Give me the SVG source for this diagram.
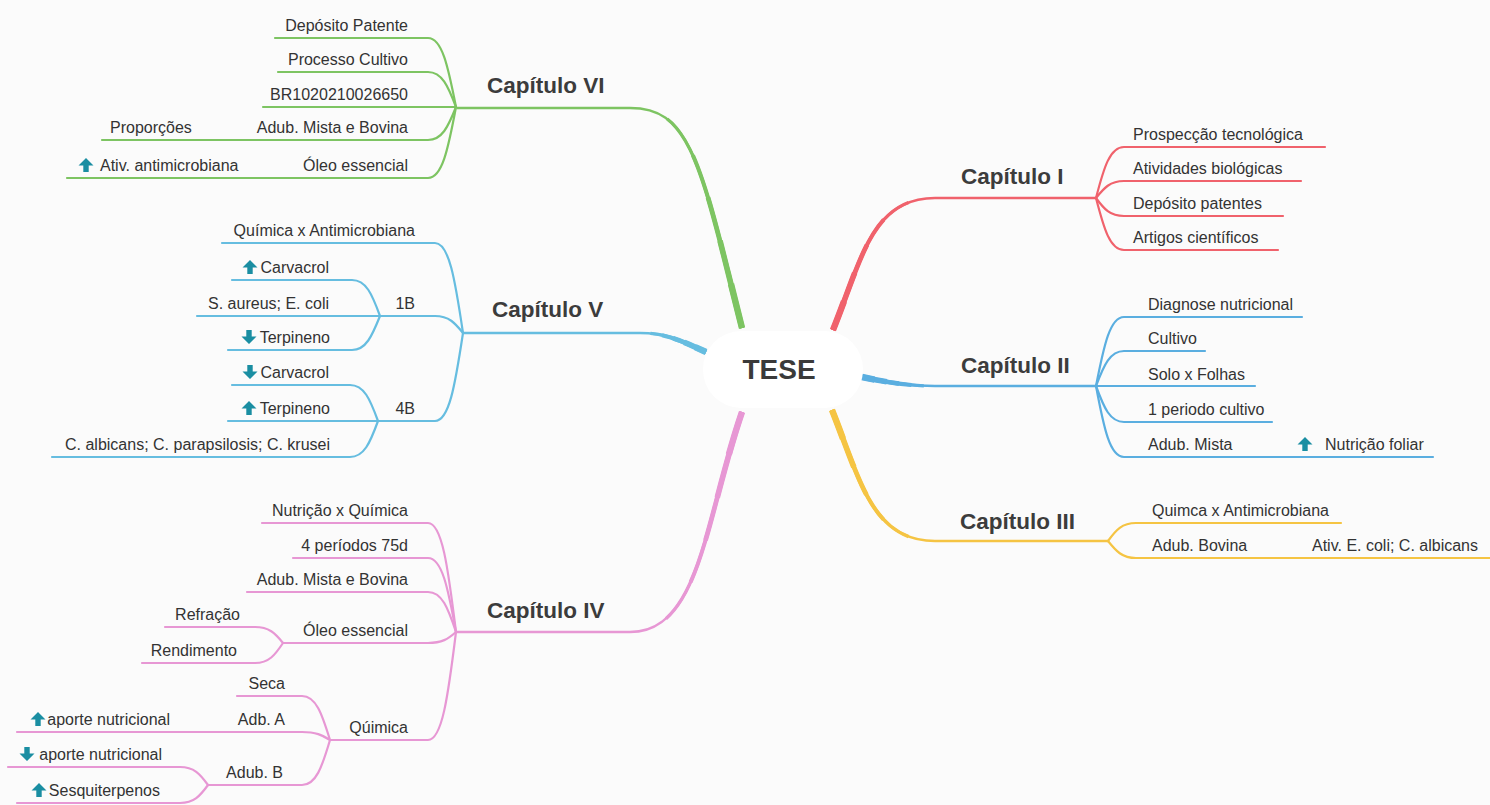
<svg xmlns="http://www.w3.org/2000/svg" width="1490" height="805" viewBox="0 0 1490 805">
<defs>
<style>
.t{font-family:"Liberation Sans",Arial,sans-serif;font-size:16px;fill:#333}
.e{text-anchor:end}
.h{font-family:"Liberation Sans",Arial,sans-serif;font-weight:bold;font-size:22.5px;fill:#3c3c3c}
.c path{fill:none;stroke-width:2.2;stroke-linecap:round;stroke-linejoin:round}
.m path,.m use{fill:none;stroke-linecap:butt}
.green path,.green use{stroke:#7dc462}
.bv path,.bv use{stroke:#66bde0}
.bii path,.bii use{stroke:#5aaee0}
.pink path,.pink use{stroke:#e797d4}
.red path,.red use{stroke:#f0626c}
.yel path,.yel use{stroke:#f5c443}
.w0{stroke-width:2.6}
.w1{stroke-width:3.3;stroke-dasharray:85 1000}
.w2{stroke-width:4.0;stroke-dasharray:68 1000}
.w3{stroke-width:4.8;stroke-dasharray:51 1000}
.w4{stroke-width:5.6;stroke-dasharray:34 1000}
.w5{stroke-width:6.4;stroke-dasharray:17 1000}
.ic{fill:#1a8ea2}
</style>
<path id="up" d="M0,0 L7.5,7.5 L2.7,7.5 L2.7,14 L-2.7,14 L-2.7,7.5 L-7.5,7.5 Z"/>
<path id="dn" d="M0,14 L7.5,6.5 L2.7,6.5 L2.7,0 L-2.7,0 L-2.7,6.5 L-7.5,6.5 Z"/>
<path id="k6" pathLength="100" d="M742,328 C700,160 690,108 630,108"/>
<path id="k5" pathLength="100" d="M706,352 C680,340 665,333 640,333"/>
<path id="k4" pathLength="100" d="M742,412 C705,520 700,632 630,632"/>
<path id="k1" pathLength="100" d="M833,330 C862,258 872,198 935,198"/>
<path id="k2" pathLength="100" d="M862,377 C890,383 910,386 935,386"/>
<path id="k3" pathLength="100" d="M832,410 C860,480 872,541 935,541"/>
</defs>
<rect width="1490" height="805" fill="#fbfbfb"/>

<g id="connectors">
 <g class="m green">
  <path class="w0" d="M742,328 C700,160 690,108 630,108 L457,108"/>
  <use href="#k6" class="w1"/><use href="#k6" class="w2"/><use href="#k6" class="w3"/><use href="#k6" class="w4"/><use href="#k6" class="w5"/>
 </g>
 <g class="m bv">
  <path class="w0" d="M706,352 C680,340 665,333 640,333 L463,333"/>
  <use href="#k5" class="w1"/><use href="#k5" class="w2"/><use href="#k5" class="w3"/><use href="#k5" class="w4"/><use href="#k5" class="w5"/>
 </g>
 <g class="m pink">
  <path class="w0" d="M742,412 C705,520 700,632 630,632 L456,632"/>
  <use href="#k4" class="w1"/><use href="#k4" class="w2"/><use href="#k4" class="w3"/><use href="#k4" class="w4"/><use href="#k4" class="w5"/>
 </g>
 <g class="m red">
  <path class="w0" d="M833,330 C862,258 872,198 935,198 L1096,198"/>
  <use href="#k1" class="w1"/><use href="#k1" class="w2"/><use href="#k1" class="w3"/><use href="#k1" class="w4"/><use href="#k1" class="w5"/>
 </g>
 <g class="m bii">
  <path class="w0" d="M862,377 C890,383 910,386 935,386 L1096,386"/>
  <use href="#k2" class="w1"/><use href="#k2" class="w2"/><use href="#k2" class="w3"/><use href="#k2" class="w4"/><use href="#k2" class="w5"/>
 </g>
 <g class="m yel">
  <path class="w0" d="M832,410 C860,480 872,541 935,541 L1108,541"/>
  <use href="#k3" class="w1"/><use href="#k3" class="w2"/><use href="#k3" class="w3"/><use href="#k3" class="w4"/><use href="#k3" class="w5"/>
 </g>

 <g class="c green">
  <path d="M456,107 C448,66 442,38 428,38 L275,38"/>
  <path d="M456,107 C448,86 442,72 428,72 L278,72"/>
  <path d="M456,107 L263,107"/>
  <path d="M456,107 C448,127 442,140 428,140 L102,140"/>
  <path d="M456,107 C448,150 442,178 428,178 L67,178"/>
 </g>
 <g class="c bv">
  <path d="M463,333 C455,279 449,243 435,243 L222,243"/>
  <path d="M463,333 C455,323 449,316 435,316 L380,316"/>
  <path d="M463,333 C455,386 449,421 435,421 L378,421"/>
  <path d="M380,316 C372,294 366,280 352,280 L232,280"/>
  <path d="M380,316 L197,316"/>
  <path d="M380,316 C372,336 366,350 352,350 L228,350"/>
  <path d="M378,421 C370,399 364,385 350,385 L232,385"/>
  <path d="M378,421 L228,421"/>
  <path d="M378,421 C370,443 364,457 350,457 L52,457"/>
 </g>
 <g class="c pink">
  <path d="M456,632 C448,567 442,523 428,523 L262,523"/>
  <path d="M456,632 C448,588 442,558 428,558 L293,558"/>
  <path d="M456,632 C448,608 442,592 428,592 L247,592"/>
  <path d="M456,632 C448,639 442,643 428,643 L283,643"/>
  <path d="M456,632 C448,697 442,740 428,740 L330,740"/>
  <path d="M283,643 C275,633 269,627 255,627 L165,627"/>
  <path d="M283,643 C275,655 269,663 255,663 L142,663"/>
  <path d="M330,740 C322,714 316,696 302,696 L237,696"/>
  <path d="M330,740 C322,735 316,732 302,732 L17,732"/>
  <path d="M330,740 C322,767 316,785 302,785 L208,785"/>
  <path d="M208,785 C200,774 194,767 180,767 L8,767"/>
  <path d="M208,785 C200,796 194,803 180,803 L17,803"/>
 </g>
 <g class="c red">
  <path d="M1096,198 C1104,167 1110,147 1124,147 L1325,147"/>
  <path d="M1096,198 C1104,188 1110,181 1124,181 L1301,181"/>
  <path d="M1096,198 C1104,209 1110,216 1124,216 L1283,216"/>
  <path d="M1096,198 C1104,229 1110,250 1124,250 L1278,250"/>
 </g>
 <g class="c bii">
  <path d="M1096,386 C1104,345 1110,317 1124,317 L1302,317"/>
  <path d="M1096,386 C1104,365 1110,351 1124,351 L1205,351"/>
  <path d="M1096,386 L1255,386"/>
  <path d="M1096,386 C1104,408 1110,422 1124,422 L1272,422"/>
  <path d="M1096,386 C1104,429 1110,457 1124,457 L1433,457"/>
 </g>
 <g class="c yel">
  <path d="M1108,541 C1116,530 1122,523 1136,523 L1341,523"/>
  <path d="M1108,541 C1116,551 1122,558 1136,558 L1490,558"/>
 </g>
</g>

<g id="tese">
 <rect x="703" y="331" width="160" height="77" rx="38" fill="#ffffff"/>
 <text x="779" y="379" text-anchor="middle" style="font-family:'Liberation Sans',Arial,sans-serif;font-weight:bold;font-size:28px;fill:#3a3a3a">TESE</text>
</g>

<g id="cap6"><text class="h" x="487" y="93">Capítulo VI</text></g>
<g id="cap6-deposito"><text class="t e" x="408" y="31">Depósito Patente</text></g>
<g id="cap6-processo"><text class="t e" x="408" y="65">Processo Cultivo</text></g>
<g id="cap6-br"><text class="t e" x="408" y="100">BR1020210026650</text></g>
<g id="cap6-adub"><text class="t e" x="408" y="133">Adub. Mista e Bovina</text></g>
<g id="cap6-proporcoes"><text class="t" x="110" y="133">Proporções</text></g>
<g id="cap6-oleo"><text class="t e" x="408" y="171">Óleo essencial</text></g>
<g id="cap6-ativ"><use href="#up" class="ic" x="86" y="158"/><text class="t" x="100" y="171">Ativ. antimicrobiana</text></g>

<g id="cap5"><text class="h" x="492" y="317">Capítulo V</text></g>
<g id="cap5-quimica"><text class="t e" x="415" y="236">Química x Antimicrobiana</text></g>
<g id="cap5-1b"><text class="t e" x="415" y="309">1B</text></g>
<g id="cap5-1b-carvacrol"><use href="#up" class="ic" x="250" y="260"/><text class="t e" x="329" y="273">Carvacrol</text></g>
<g id="cap5-1b-saureus"><text class="t e" x="329" y="309">S. aureus; E. coli</text></g>
<g id="cap5-1b-terpineno"><use href="#dn" class="ic" x="249" y="330"/><text class="t e" x="330" y="343">Terpineno</text></g>
<g id="cap5-4b"><text class="t e" x="415" y="414">4B</text></g>
<g id="cap5-4b-carvacrol"><use href="#dn" class="ic" x="250" y="365"/><text class="t e" x="329" y="378">Carvacrol</text></g>
<g id="cap5-4b-terpineno"><use href="#up" class="ic" x="249" y="401"/><text class="t e" x="330" y="414">Terpineno</text></g>
<g id="cap5-4b-calbicans"><text class="t e" x="330" y="450">C. albicans; C. parapsilosis; C. krusei</text></g>

<g id="cap4"><text class="h" x="487" y="618">Capítulo IV</text></g>
<g id="cap4-nutricao"><text class="t e" x="408" y="516">Nutrição x Química</text></g>
<g id="cap4-periodos"><text class="t e" x="408" y="551">4 períodos 75d</text></g>
<g id="cap4-adub"><text class="t e" x="408" y="585">Adub. Mista e Bovina</text></g>
<g id="cap4-oleo"><text class="t e" x="408" y="636">Óleo essencial</text></g>
<g id="cap4-refracao"><text class="t e" x="240" y="620">Refração</text></g>
<g id="cap4-rendimento"><text class="t e" x="237" y="656">Rendimento</text></g>
<g id="cap4-quimica"><text class="t e" x="408" y="733">Qúimica</text></g>
<g id="cap4-seca"><text class="t e" x="285" y="689">Seca</text></g>
<g id="cap4-adba"><text class="t e" x="285" y="725">Adb. A</text></g>
<g id="cap4-adba-aporte"><use href="#up" class="ic" x="38" y="712"/><text class="t e" x="170" y="725">aporte nutricional</text></g>
<g id="cap4-adubb"><text class="t e" x="283" y="778">Adub. B</text></g>
<g id="cap4-adubb-aporte"><use href="#dn" class="ic" x="27" y="747"/><text class="t e" x="162" y="760">aporte nutricional</text></g>
<g id="cap4-adubb-sesqui"><use href="#up" class="ic" x="39" y="783"/><text class="t e" x="160" y="796">Sesquiterpenos</text></g>

<g id="cap1"><text class="h" x="961" y="184">Capítulo I</text></g>
<g id="cap1-prospeccao"><text class="t" x="1133" y="140">Prospecção tecnológica</text></g>
<g id="cap1-atividades"><text class="t" x="1133" y="174">Atividades biológicas</text></g>
<g id="cap1-deposito"><text class="t" x="1133" y="209">Depósito patentes</text></g>
<g id="cap1-artigos"><text class="t" x="1133" y="243">Artigos científicos</text></g>

<g id="cap2"><text class="h" x="961" y="373">Capítulo II</text></g>
<g id="cap2-diagnose"><text class="t" x="1148" y="310">Diagnose nutricional</text></g>
<g id="cap2-cultivo"><text class="t" x="1148" y="344">Cultivo</text></g>
<g id="cap2-solo"><text class="t" x="1148" y="380">Solo x Folhas</text></g>
<g id="cap2-periodo"><text class="t" x="1148" y="415">1 periodo cultivo</text></g>
<g id="cap2-adub"><text class="t" x="1148" y="450">Adub. Mista</text></g>
<g id="cap2-nutricao"><use href="#up" class="ic" x="1305" y="437"/><text class="t" x="1325" y="450">Nutrição foliar</text></g>

<g id="cap3"><text class="h" x="960" y="529">Capítulo III</text></g>
<g id="cap3-quimca"><text class="t" x="1152" y="516">Quimca x Antimicrobiana</text></g>
<g id="cap3-adub"><text class="t" x="1152" y="551">Adub. Bovina</text></g>
<g id="cap3-ativ"><text class="t" x="1312" y="551">Ativ. E. coli; C. albicans</text></g>
</svg>
